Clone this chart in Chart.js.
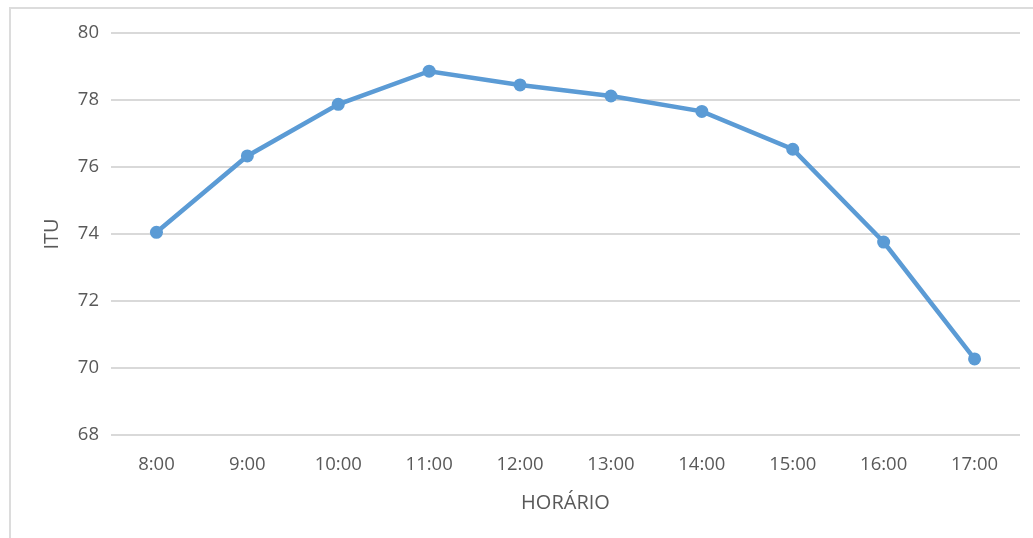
<!DOCTYPE html>
<html>
<head>
<meta charset="utf-8">
<script src="https://cdn.jsdelivr.net/npm/chart.js@4"></script>
<style>
  html, body { margin: 0; padding: 0; background: #fff; overflow: hidden; }
  #frame {
    position: absolute; left: 9px; top: 7px; width: 1040px; height: 560px;
    border: 2px solid #dcdcdc; box-sizing: border-box;
  }
  #itu { position: absolute; left: 0; top: 0; }
</style>
</head>
<body>
<div id="frame"></div>
<canvas id="itu" width="1033" height="538"></canvas>
<script>
// ITU ao longo do dia
const horarios = ["8:00", "9:00", "10:00", "11:00", "12:00", "13:00", "14:00", "15:00", "16:00", "17:00"];
const itu = [74.05, 76.33, 77.87, 78.86, 78.45, 78.12, 77.66, 76.53, 73.76, 70.27];
const yMin = 68;
const yMax = 80;
const yStep = 2;

const cinza = "#595959";
const fonte = "'Open Sans', sans-serif";

const ctx = document.getElementById("itu").getContext("2d");
new Chart(ctx, {
  type: "line",
  data: {
    labels: horarios,
    datasets: [{
      label: "ITU",
      data: itu,
      borderColor: "#5b9bd5",
      backgroundColor: "#5b9bd5",
      borderWidth: 4.5,
      pointRadius: 6.5,
      pointBorderWidth: 0,
      tension: 0
    }]
  },
  options: {
    responsive: false,
    animation: false,
    layout: {
      padding: { top: 33, right: 13, left: 0, bottom: 0 }
    },
    scales: {
      x: {
        offset: true,
        grid: { display: false },
        border: { display: false },
        ticks: { color: cinza, font: { family: fonte, size: 18.5 }, padding: 11 },
        title: {
          display: true,
          text: "HORÁRIO",
          color: cinza,
          font: { family: fonte, size: 20 },
          padding: { top: 0, bottom: 23 }
        },
        afterFit: function(scale) { scale.height = 103; }
      },
      y: {
        min: yMin,
        max: yMax,
        ticks: {
          stepSize: yStep,
          color: cinza,
          font: { family: fonte, size: 18.5 },
          padding: 12
        },
        grid: { color: "#d9d9d9", lineWidth: 2, drawTicks: false },
        border: { display: false },
        title: {
          display: true,
          text: "ITU",
          color: cinza,
          font: { family: fonte, size: 20 },
          padding: { top: 40, bottom: 0 }
        },
        afterFit: function(scale) { scale.width = 111; }
      }
    },
    plugins: {
      legend: { display: false },
      tooltip: { enabled: false }
    }
  }
});
</script>
</body>
</html>
